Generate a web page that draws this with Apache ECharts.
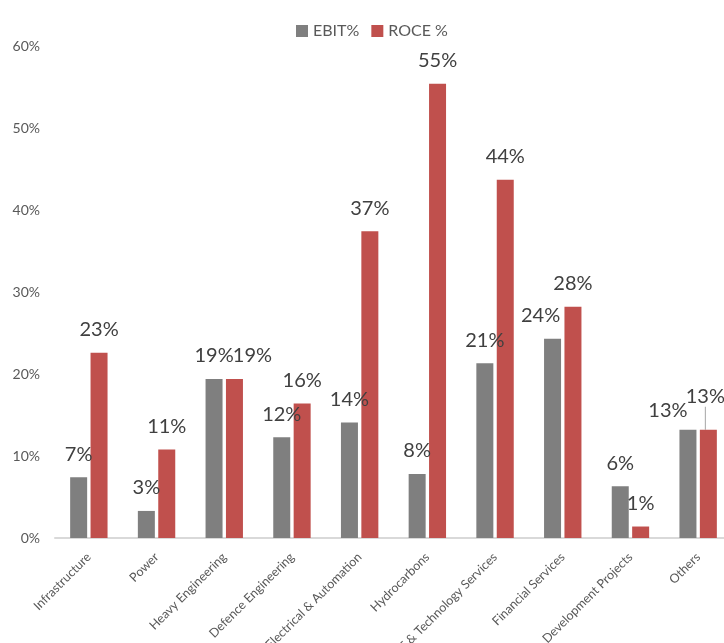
<!DOCTYPE html>
<html>
<head>
<meta charset="utf-8">
<script src="https://cdn.jsdelivr.net/npm/echarts@6/dist/echarts.min.js"></script>
<style>html,body{margin:0;padding:0;background:#fff}#c{width:724px;height:643px}</style>
</head>
<body>
<div id="c"></div>
<script>
const categories = ['Infrastructure','Power','Heavy Engineering','Defence Engineering','Electrical & Automation','Hydrocarbons','IT & Technology Services','Financial Services','Development Projects','Others'];
const ebit = [7.4, 3.3, 19.4, 12.3, 14.1, 7.8, 21.3, 24.3, 6.3, 13.2];
const roce = [22.6, 10.8, 19.4, 16.4, 37.4, 55.4, 43.7, 28.2, 1.4, 13.2];
const yTicks = [0, 10, 20, 30, 40, 50, 60];

const FONT = 'Lato, "Open Sans", sans-serif';
const labelBase = {show: true, position: 'top', distance: 13, fontSize: 20, color: '#404040', fontFamily: FONT,
  formatter: p => Math.round(p.value) + '%'};

const ebitData = ebit.map((v, i) => {
  if (i === 9) return {value: v, label: {offset: [-20, 4]}};
  if (i === 7) return {value: v, label: {offset: [-12, 0]}};
  return v;
});
const roceData = roce.map((v, i) => {
  if (i === 9) return {value: v, labelLine: {show: true}};
  return v;
});

const chart = echarts.init(document.getElementById('c'), null, {renderer: 'canvas'});
chart.setOption({
  animation: false,
  textStyle: {fontFamily: FONT},
  legend: {
    top: 18, left: 291, itemWidth: 12, itemHeight: 12, itemGap: 12,
    icon: 'rect',
    textStyle: {fontSize: 16, color: '#595959', fontFamily: FONT},
    data: ['EBIT%', 'ROCE %']
  },
  grid: {left: 55, right: -8, top: 46, bottom: 105, containLabel: false, outerBoundsMode: 'none'},
  xAxis: {
    type: 'category', data: categories,
    axisLine: {lineStyle: {color: '#d9d9d9', width: 2}},
    axisTick: {show: false},
    axisLabel: {interval: 0, rotate: 45, fontSize: 12.5, color: '#595959', margin: 17, fontFamily: FONT}
  },
  yAxis: {
    type: 'value', min: yTicks[0], max: yTicks[yTicks.length - 1], interval: 10,
    axisLine: {show: false}, axisTick: {show: false},
    splitLine: {show: false},
    axisLabel: {formatter: '{value}%', fontSize: 14, color: '#595959', margin: 15, fontFamily: FONT}
  },
  series: [
    {name: 'EBIT%', type: 'bar', data: ebitData, barWidth: 17, barGap: '20%',
      itemStyle: {color: '#7f7f7f'}, label: labelBase},
    {name: 'ROCE %', type: 'bar', data: roceData, barWidth: 17, barGap: '20%',
      itemStyle: {color: '#c0504d'}, label: labelBase,
      labelLayout: p => {
        if (p.dataIndex === 2) return {dx: 18};
        if (p.dataIndex === 9) return {dx: -3, dy: -10};
        return null;
      },
      labelLine: {show: false, lineStyle: {color: '#a6a6a6', width: 1}}}
  ]
});
</script>
</body>
</html>
